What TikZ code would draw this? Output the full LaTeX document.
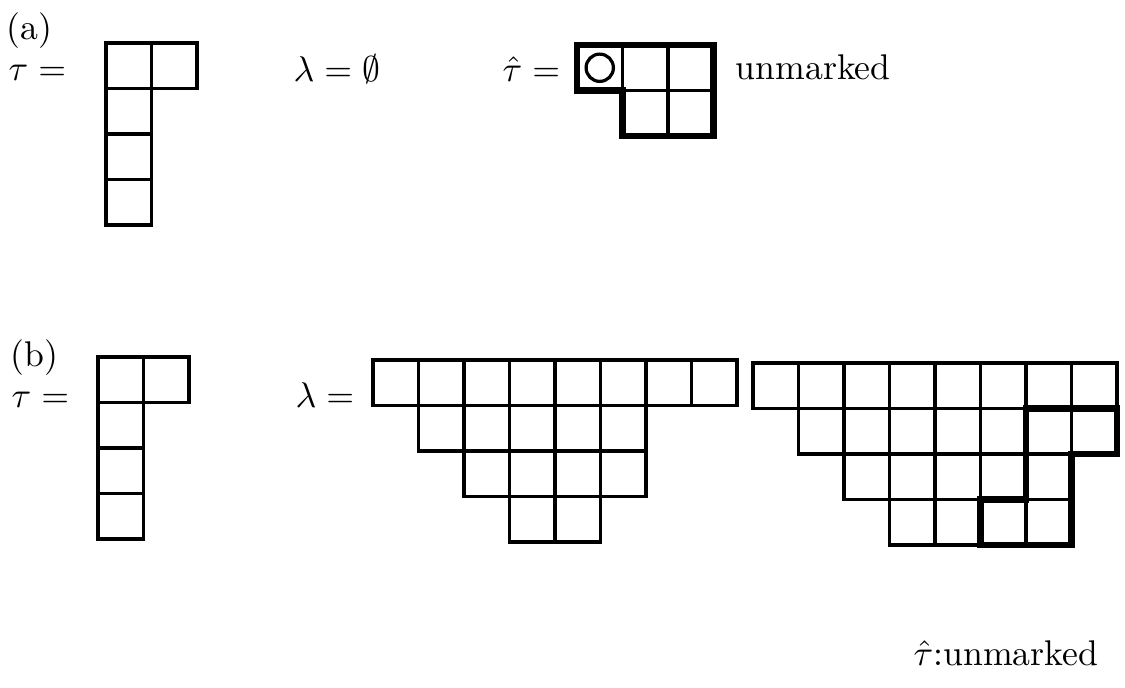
\documentclass[tikz,border=0pt]{standalone}
\usepackage{amsmath}
\usepackage{amssymb}
\usepackage{tikz}
\usetikzlibrary{positioning}
\newcommand{\cellsz}{12.74pt}

\begin{document}
\begin{tikzpicture}[
  x=0.28pt, y=-0.28pt,
  cell/.style={draw=black, line width=0.9pt},
  rim/.style={draw=black, line width=1.8pt, line join=miter},
  lbl/.style={inner sep=0pt, anchor=base west, font=\normalsize}]
\useasboundingbox (0,0) rectangle (1125,687);
% (a)
\node[lbl] (tagA) at (6,40) {(a)};
\node[lbl] (tauA) at (8,81) {$\tau =$};
\begin{scope}[shift={(106,43)}, x=\cellsz, y=-\cellsz]
  \foreach \r/\s/\n in {0/0/2,1/0/1,2/0/1,3/0/1}
    \foreach \c in {1,...,\n}
      \draw[cell] (\s+\c-1,\r) rectangle ++(1,1);
\end{scope}
\node[lbl] (lamA) at (293,82) {$\lambda = \emptyset$};
\node[lbl] (hatA) at (502,82) {$\hat{\tau} =$};
\begin{scope}[shift={(577,45)}, x=\cellsz, y=-\cellsz]
  \foreach \r/\s/\n in {0/0/3,1/1/2}
    \foreach \c in {1,...,\n}
      \draw[cell] (\s+\c-1,\r) rectangle ++(1,1);
  \draw[rim] (0,0) -- (3,0) -- (3,2) -- (1,2) -- (1,1) -- (0,1) -- cycle;
  \draw[cell] (0.5,0.5) circle[radius=0.3];
\end{scope}
\node[lbl] (unmA) at (735,80) {unmarked};
% (b)
\node[lbl] (tagB) at (10,366) {(b)};
\node[lbl] (tauB) at (11,407) {$\tau =$};
\begin{scope}[shift={(98,357)}, x=\cellsz, y=-\cellsz]
  \foreach \r/\s/\n in {0/0/2,1/0/1,2/0/1,3/0/1}
    \foreach \c in {1,...,\n}
      \draw[cell] (\s+\c-1,\r) rectangle ++(1,1);
\end{scope}
\node[lbl] (lamB) at (295,407) {$\lambda =$};
\begin{scope}[shift={(373,360)}, x=\cellsz, y=-\cellsz]
  \foreach \r/\s/\n in {0/0/8,1/1/5,2/2/4,3/3/2}
    \foreach \c in {1,...,\n}
      \draw[cell] (\s+\c-1,\r) rectangle ++(1,1);
\end{scope}
\begin{scope}[shift={(753,363)}, x=\cellsz, y=-\cellsz]
  \foreach \r/\s/\n in {0/0/8,1/1/7,2/2/5,3/3/4}
    \foreach \c in {1,...,\n}
      \draw[cell] (\s+\c-1,\r) rectangle ++(1,1);
  \draw[rim] (6,1) -- (8,1) -- (8,2) -- (7,2) -- (7,4) -- (5,4) -- (5,3) -- (6,3) -- cycle;
\end{scope}
\node[lbl] (unmB) at (913,665) {$\hat{\tau}$:unmarked};
\end{tikzpicture}
\end{document}
